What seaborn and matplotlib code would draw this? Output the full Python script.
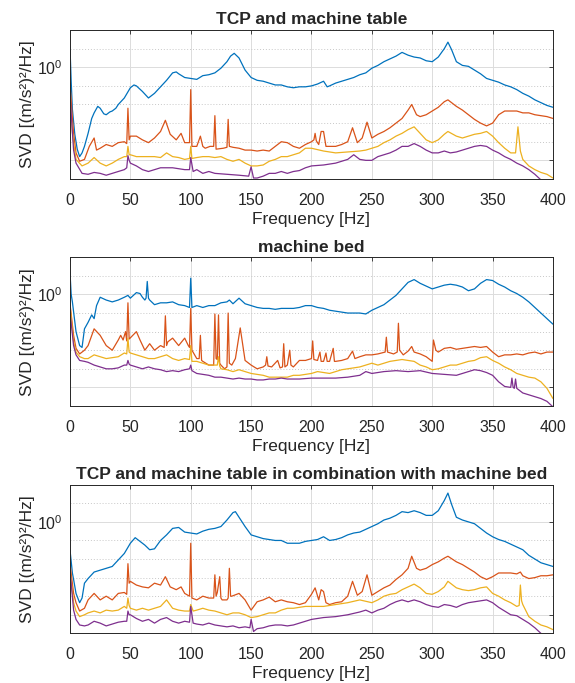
import matplotlib
matplotlib.use("Agg")
import matplotlib.pyplot as plt
import seaborn as sns
import numpy as np
from matplotlib.ticker import FixedLocator, FixedFormatter, NullFormatter

# singular values, stored as log10 exponents: (frequency [Hz], log10 SVD)
table_blue = [(0, 0.22), (1, -0.15), (2, -0.45), (4, -0.72), (6, -0.88), (8, -0.96), (10, -0.92), (12, -0.85),
              (15, -0.71), (18, -0.55), (20, -0.49), (23, -0.42), (25, -0.44), (28, -0.5), (30, -0.51), (33, -0.48),
              (35, -0.47), (38, -0.44), (40, -0.40), (45, -0.33), (50, -0.22), (53, -0.19), (55, -0.20), (60, -0.26),
              (65, -0.33), (70, -0.28), (75, -0.21), (80, -0.14), (85, -0.06), (88, -0.05), (90, -0.07), (95, -0.11),
              (100, -0.12), (105, -0.13), (110, -0.09), (115, -0.08), (120, -0.06), (125, -0.01), (130, 0.06),
              (133, 0.12), (136, 0.15), (140, 0.10), (145, -0.03), (150, -0.11), (155, -0.14), (160, -0.15),
              (165, -0.17), (170, -0.19), (175, -0.19), (180, -0.21), (185, -0.22), (190, -0.21), (195, -0.21),
              (200, -0.20), (205, -0.18), (210, -0.15), (213, -0.21), (215, -0.20), (220, -0.17), (225, -0.15),
              (230, -0.13), (235, -0.11), (240, -0.08), (245, -0.06), (250, -0.01), (255, 0.02), (260, 0.06),
              (265, 0.09), (270, 0.12), (275, 0.16), (280, 0.13), (285, 0.11), (290, 0.10), (295, 0.07), (300, 0.06),
              (305, 0.11), (310, 0.20), (313, 0.27), (316, 0.19), (320, 0.06), (325, 0.02), (330, 0.01), (335, -0.03),
              (340, -0.07), (345, -0.12), (350, -0.14), (355, -0.16), (360, -0.19), (365, -0.21), (370, -0.24),
              (375, -0.28), (380, -0.31), (385, -0.35), (390, -0.38), (395, -0.41), (400, -0.43)]
table_orange = [(0, -0.17), (2, -0.55), (3, -0.71), (5, -0.92), (8, -1.01), (12, -0.99), (16, -0.85), (20, -0.76),
                (22, -0.89), (25, -0.87), (30, -0.83), (35, -0.85), (40, -0.81), (45, -0.80), (47, -0.82), (48, -0.44),
                (49, -0.78), (50, -0.74), (55, -0.74), (60, -0.78), (65, -0.81), (70, -0.76), (75, -0.69), (79, -0.57),
                (83, -0.72), (88, -0.78), (92, -0.71), (95, -0.81), (99, -0.81), (100, -0.24), (101, -0.85),
                (105, -0.85), (108, -0.74), (110, -0.85), (112, -0.87), (116, -0.85), (119, -0.85), (120, -0.52),
                (121, -0.88), (127, -0.87), (130, -0.86), (131, -0.56), (132, -0.85), (135, -0.86), (140, -0.87),
                (145, -0.89), (150, -0.89), (155, -0.90), (160, -0.89), (165, -0.90), (170, -0.85), (175, -0.80),
                (180, -0.81), (185, -0.85), (190, -0.87), (195, -0.83), (200, -0.80), (202, -0.78), (203, -0.71),
                (204, -0.79), (206, -0.83), (208, -0.69), (210, -0.69), (212, -0.85), (215, -0.85), (220, -0.85),
                (225, -0.83), (230, -0.80), (234, -0.65), (238, -0.81), (242, -0.76), (246, -0.59), (250, -0.76),
                (255, -0.72), (260, -0.69), (265, -0.65), (270, -0.60), (275, -0.55), (280, -0.46), (283, -0.40),
                (287, -0.51), (290, -0.53), (295, -0.51), (300, -0.47), (305, -0.43), (310, -0.37), (313, -0.35),
                (320, -0.42), (325, -0.46), (330, -0.51), (335, -0.56), (340, -0.60), (345, -0.63), (350, -0.60),
                (355, -0.51), (360, -0.47), (365, -0.47), (370, -0.47), (375, -0.49), (380, -0.49), (385, -0.51),
                (390, -0.52), (395, -0.53), (400, -0.55)]
table_yellow = [(0, -0.35), (2, -0.7), (3, -0.81), (5, -0.99), (10, -1.06), (15, -1.03), (20, -0.97), (25, -1.03),
                (30, -1.06), (35, -1.03), (40, -0.99), (45, -0.96), (47, -0.96), (48, -0.85), (49, -0.94), (50, -0.94),
                (55, -0.96), (60, -0.96), (65, -0.96), (70, -0.96), (75, -0.97), (80, -0.92), (85, -0.96), (90, -0.97),
                (95, -0.99), (99, -0.98), (100, -0.85), (101, -0.98), (105, -0.97), (110, -0.96), (115, -0.96),
                (120, -0.97), (125, -0.96), (130, -0.99), (135, -1.01), (140, -0.99), (145, -1.03), (150, -1.06),
                (155, -1.06), (160, -1.05), (165, -1.01), (170, -0.99), (175, -0.96), (180, -0.96), (185, -0.94),
                (190, -0.92), (195, -0.87), (200, -0.87), (210, -0.90), (220, -0.92), (230, -0.91), (240, -0.90),
                (245, -0.89), (250, -0.87), (255, -0.85), (260, -0.81), (265, -0.78), (270, -0.74), (275, -0.71),
                (280, -0.67), (285, -0.64), (290, -0.71), (295, -0.78), (300, -0.81), (305, -0.78), (310, -0.72),
                (313, -0.69), (320, -0.74), (325, -0.76), (330, -0.74), (335, -0.72), (340, -0.71), (345, -0.69),
                (350, -0.74), (355, -0.81), (360, -0.87), (365, -0.92), (369, -0.92), (371, -0.64), (373, -0.90),
                (375, -0.99), (380, -1.06), (385, -1.10), (390, -1.13), (395, -1.15), (400, -1.19)]
table_purple = [(0, -0.28), (2, -0.7), (3, -0.89), (5, -1.03), (10, -1.14), (15, -1.15), (20, -1.13), (25, -1.14),
                (30, -1.16), (35, -1.14), (40, -1.12), (45, -1.10), (47, -1.08), (48, -0.95), (49, -1.0), (50, -1.03),
                (55, -1.06), (60, -1.10), (65, -1.12), (70, -1.10), (75, -1.08), (80, -1.08), (85, -1.08), (90, -1.09),
                (95, -1.10), (99, -1.10), (100, -0.97), (102, -1.12), (105, -1.10), (110, -1.14), (115, -1.12),
                (120, -1.14), (130, -1.15), (140, -1.16), (148, -1.17), (150, -1.07), (152, -1.19), (155, -1.19),
                (160, -1.17), (165, -1.14), (170, -1.14), (175, -1.12), (180, -1.14), (185, -1.12), (190, -1.11),
                (195, -1.08), (200, -1.06), (210, -1.05), (220, -1.03), (230, -0.99), (235, -0.94), (240, -0.99),
                (245, -1.0), (250, -1.0), (255, -0.96), (260, -0.94), (265, -0.92), (270, -0.89), (275, -0.85),
                (280, -0.85), (285, -0.82), (290, -0.85), (295, -0.89), (300, -0.92), (305, -0.92), (310, -0.90),
                (315, -0.92), (320, -0.91), (325, -0.89), (330, -0.87), (335, -0.85), (340, -0.84), (345, -0.85),
                (350, -0.89), (355, -0.92), (360, -0.96), (365, -0.99), (370, -1.03), (375, -1.06), (380, -1.10),
                (385, -1.15), (390, -1.21), (395, -1.26), (400, -1.3)]

bed_blue = [(0, 0.24), (1, 0.0), (2, -0.08), (5, -0.40), (8, -0.55), (10, -0.57), (12, -0.37), (15, -0.30),
            (18, -0.22), (20, -0.26), (22, -0.12), (25, -0.03), (30, -0.06), (35, -0.08), (40, -0.06), (45, -0.03),
            (48, -0.01), (50, -0.04), (55, 0.02), (58, 0.01), (60, -0.03), (62, -0.06), (63, -0.04), (64, 0.14),
            (65, -0.04), (66, -0.06), (70, -0.11), (75, -0.09), (80, -0.09), (85, -0.08), (90, -0.11), (95, -0.12),
            (99, -0.14), (100, 0.175), (101, -0.14), (105, -0.12), (110, -0.14), (115, -0.12), (120, -0.12),
            (125, -0.09), (130, -0.08), (132, -0.06), (135, -0.10), (140, -0.04), (145, -0.10), (150, -0.12),
            (155, -0.14), (160, -0.15), (165, -0.15), (170, -0.16), (175, -0.15), (180, -0.15), (185, -0.15),
            (190, -0.14), (195, -0.12), (200, -0.12), (205, -0.14), (210, -0.15), (215, -0.17), (220, -0.18),
            (225, -0.19), (230, -0.20), (235, -0.20), (240, -0.20), (245, -0.21), (250, -0.17), (255, -0.14),
            (260, -0.11), (265, -0.06), (270, -0.01), (275, 0.06), (280, 0.13), (285, 0.16), (290, 0.12), (295, 0.09),
            (300, 0.06), (305, 0.08), (310, 0.10), (315, 0.11), (320, 0.10), (325, 0.08), (330, 0.04), (335, 0.06),
            (340, 0.12), (345, 0.16), (350, 0.15), (355, 0.11), (360, 0.08), (365, 0.04), (370, 0.01), (375, -0.03),
            (380, -0.08), (385, -0.14), (390, -0.20), (395, -0.26), (400, -0.32)]
bed_orange = [(0, -0.10), (3, -0.44), (5, -0.58), (8, -0.64), (12, -0.60), (15, -0.55), (20, -0.37), (25, -0.44),
              (30, -0.55), (35, -0.60), (40, -0.49), (42, -0.44), (44, -0.49), (46, -0.40), (47, -0.5), (48, -0.09),
              (49, -0.48), (52, -0.44), (55, -0.40), (58, -0.49), (62, -0.60), (66, -0.53), (70, -0.60), (75, -0.55),
              (78, -0.57), (79, -0.23), (80, -0.55), (81, -0.51), (85, -0.47), (90, -0.55), (95, -0.47), (98, -0.55),
              (99, -0.57), (100, -0.15), (101, -0.60), (105, -0.69), (107, -0.69), (108, -0.44), (109, -0.71),
              (110, -0.72), (115, -0.76), (119, -0.76), (120, -0.21), (121, -0.69), (122, -0.70), (123, -0.22),
              (124, -0.74), (125, -0.76), (128, -0.80), (130, -0.78), (131, -0.20), (132, -0.74), (134, -0.76),
              (137, -0.69), (141, -0.36), (145, -0.71), (150, -0.76), (155, -0.80), (160, -0.78), (162, -0.76),
              (163, -0.67), (164, -0.77), (167, -0.78), (172, -0.71), (174, -0.79), (176, -0.78), (177, -0.53),
              (178, -0.78), (180, -0.76), (182, -0.60), (183, -0.76), (185, -0.78), (190, -0.71), (195, -0.71),
              (200, -0.69), (201, -0.50), (202, -0.70), (205, -0.71), (207, -0.62), (208, -0.72), (210, -0.72),
              (212, -0.63), (213, -0.72), (215, -0.72), (218, -0.58), (219, -0.72), (220, -0.72), (225, -0.71),
              (230, -0.69), (234, -0.61), (236, -0.69), (240, -0.67), (245, -0.65), (250, -0.65), (255, -0.64),
              (261, -0.62), (262, -0.46), (263, -0.62), (268, -0.64), (271, -0.62), (272, -0.31), (273, -0.60),
              (276, -0.65), (280, -0.61), (283, -0.56), (285, -0.62), (290, -0.64), (295, -0.67), (300, -0.72),
              (301, -0.49), (303, -0.60), (305, -0.62), (310, -0.58), (315, -0.57), (320, -0.59), (325, -0.58),
              (330, -0.57), (335, -0.56), (340, -0.57), (345, -0.56), (350, -0.62), (355, -0.67), (360, -0.65),
              (365, -0.65), (370, -0.64), (375, -0.65), (380, -0.63), (385, -0.62), (390, -0.64), (395, -0.62),
              (400, -0.62)]
bed_yellow = [(0, -0.12), (3, -0.51), (5, -0.62), (8, -0.67), (12, -0.69), (15, -0.69), (20, -0.65), (25, -0.67),
              (30, -0.69), (35, -0.68), (40, -0.67), (45, -0.63), (47, -0.64), (48, -0.47), (49, -0.62), (50, -0.63),
              (55, -0.65), (60, -0.67), (65, -0.69), (70, -0.69), (75, -0.67), (80, -0.65), (85, -0.69), (90, -0.71),
              (95, -0.69), (99, -0.70), (100, -0.55), (101, -0.72), (105, -0.72), (110, -0.74), (115, -0.76),
              (120, -0.76), (122, -0.76), (123, -0.67), (124, -0.77), (125, -0.80), (130, -0.81), (135, -0.83),
              (140, -0.81), (145, -0.83), (150, -0.85), (155, -0.86), (160, -0.87), (165, -0.89), (170, -0.89),
              (175, -0.89), (180, -0.89), (185, -0.87), (190, -0.87), (195, -0.86), (200, -0.85), (205, -0.83),
              (210, -0.84), (215, -0.85), (220, -0.83), (225, -0.81), (230, -0.80), (235, -0.79), (240, -0.78),
              (245, -0.76), (250, -0.74), (255, -0.76), (260, -0.74), (265, -0.72), (270, -0.71), (275, -0.70),
              (280, -0.71), (285, -0.72), (290, -0.76), (295, -0.78), (300, -0.81), (305, -0.80), (310, -0.78),
              (315, -0.76), (320, -0.76), (325, -0.74), (330, -0.72), (335, -0.71), (340, -0.68), (345, -0.67),
              (350, -0.71), (355, -0.74), (360, -0.78), (365, -0.81), (370, -0.85), (375, -0.87), (380, -0.89),
              (385, -0.90), (390, -0.94), (395, -1.01), (400, -1.12)]
bed_purple = [(0, -0.19), (3, -0.55), (5, -0.65), (8, -0.71), (12, -0.72), (15, -0.73), (20, -0.76), (25, -0.78),
              (30, -0.80), (35, -0.80), (40, -0.79), (45, -0.76), (47, -0.76), (48, -0.71), (49, -0.75), (50, -0.76),
              (55, -0.78), (60, -0.80), (65, -0.78), (70, -0.80), (75, -0.81), (80, -0.83), (85, -0.82), (90, -0.83),
              (95, -0.81), (99, -0.80), (100, -0.76), (101, -0.82), (105, -0.85), (110, -0.86), (115, -0.87),
              (120, -0.89), (125, -0.89), (130, -0.90), (135, -0.91), (140, -0.90), (145, -0.91), (150, -0.91),
              (155, -0.92), (160, -0.92), (165, -0.91), (170, -0.91), (175, -0.90), (180, -0.91), (185, -0.91),
              (190, -0.91), (200, -0.90), (210, -0.90), (220, -0.90), (230, -0.89), (240, -0.87), (245, -0.83),
              (250, -0.85), (260, -0.83), (270, -0.82), (280, -0.83), (290, -0.82), (300, -0.85), (310, -0.86),
              (320, -0.87), (330, -0.83), (335, -0.81), (340, -0.82), (345, -0.84), (350, -0.87), (355, -0.94),
              (360, -0.99), (365, -1.0), (366, -0.90), (367, -1.0), (368, -1.01), (369, -0.91), (370, -1.01),
              (371, -1.02), (375, -1.06), (380, -1.08), (385, -1.10), (390, -1.12), (395, -1.15), (400, -1.21)]

combo_blue = [(0, -0.30), (2, -0.55), (3, -0.62), (5, -0.77), (8, -0.87), (10, -0.82), (12, -0.66), (15, -0.61),
              (20, -0.54), (25, -0.52), (30, -0.50), (35, -0.48), (40, -0.41), (45, -0.34), (50, -0.23), (54, -0.17),
              (58, -0.21), (62, -0.25), (66, -0.30), (70, -0.29), (75, -0.20), (80, -0.14), (85, -0.07), (90, -0.06),
              (95, -0.11), (100, -0.12), (105, -0.13), (110, -0.10), (115, -0.08), (120, -0.07), (125, -0.05),
              (130, 0.02), (135, 0.10), (137, 0.11), (140, 0.05), (145, -0.05), (150, -0.14), (155, -0.16),
              (160, -0.18), (165, -0.19), (170, -0.20), (175, -0.20), (180, -0.23), (185, -0.23), (190, -0.23),
              (195, -0.21), (200, -0.20), (205, -0.19), (210, -0.16), (215, -0.20), (220, -0.19), (225, -0.17),
              (230, -0.14), (235, -0.12), (240, -0.11), (245, -0.08), (250, -0.05), (255, -0.02), (260, 0.02),
              (265, 0.04), (270, 0.07), (275, 0.11), (280, 0.10), (285, 0.12), (290, 0.10), (295, 0.07), (300, 0.07),
              (305, 0.12), (310, 0.23), (313, 0.31), (316, 0.19), (320, 0.05), (325, 0.02), (330, 0.0), (335, -0.02),
              (340, -0.07), (345, -0.12), (350, -0.16), (355, -0.19), (360, -0.21), (365, -0.24), (370, -0.27),
              (375, -0.30), (380, -0.36), (385, -0.40), (390, -0.44), (395, -0.46), (400, -0.48)]
combo_orange = [(0, -0.45), (3, -0.77), (5, -0.87), (8, -0.96), (12, -0.93), (15, -0.84), (20, -0.77), (25, -0.84),
                (30, -0.80), (35, -0.84), (40, -0.77), (45, -0.76), (47, -0.78), (48, -0.45), (49, -0.66), (50, -0.64),
                (55, -0.68), (60, -0.70), (65, -0.71), (70, -0.66), (75, -0.68), (79, -0.59), (83, -0.70), (88, -0.73),
                (92, -0.70), (95, -0.77), (99, -0.80), (100, -0.23), (101, -0.82), (105, -0.84), (110, -0.80),
                (115, -0.82), (119, -0.82), (120, -0.57), (121, -0.80), (122, -0.76), (124, -0.59), (125, -0.82),
                (126, -0.84), (130, -0.84), (131, -0.82), (132, -0.50), (133, -0.80), (134, -0.80), (140, -0.77),
                (145, -0.84), (150, -0.95), (155, -0.86), (160, -0.84), (165, -0.81), (170, -0.86), (175, -0.84),
                (180, -0.86), (185, -0.87), (190, -0.89), (195, -0.87), (200, -0.78), (203, -0.71), (206, -0.84),
                (208, -0.73), (210, -0.75), (212, -0.87), (215, -0.89), (220, -0.87), (225, -0.86), (230, -0.80),
                (234, -0.64), (238, -0.79), (242, -0.75), (246, -0.57), (250, -0.79), (255, -0.75), (260, -0.71),
                (265, -0.68), (270, -0.62), (275, -0.57), (280, -0.50), (283, -0.37), (287, -0.50), (290, -0.52),
                (295, -0.50), (300, -0.46), (305, -0.43), (310, -0.39), (313, -0.37), (320, -0.43), (325, -0.46),
                (330, -0.50), (335, -0.54), (340, -0.59), (345, -0.62), (350, -0.59), (355, -0.55), (360, -0.55),
                (365, -0.55), (370, -0.56), (373, -0.54), (375, -0.58), (380, -0.61), (385, -0.60), (390, -0.58),
                (395, -0.58), (400, -0.57)]
combo_yellow = [(0, -0.52), (3, -0.87), (5, -0.96), (8, -1.02), (12, -1.0), (15, -0.98), (20, -0.96), (25, -0.98),
                (30, -0.95), (35, -0.96), (40, -0.95), (45, -0.91), (47, -0.93), (48, -0.82), (49, -0.90), (50, -0.93),
                (55, -0.95), (60, -0.93), (65, -0.95), (70, -0.93), (75, -0.91), (80, -0.84), (85, -0.93), (90, -0.95),
                (95, -0.96), (99, -0.96), (100, -0.89), (102, -0.96), (105, -0.95), (110, -0.93), (115, -0.95),
                (120, -0.96), (125, -0.98), (130, -1.0), (135, -0.98), (140, -0.98), (145, -1.0), (150, -1.03),
                (155, -1.02), (160, -1.0), (165, -0.98), (170, -0.98), (175, -0.95), (180, -0.93), (185, -0.93),
                (190, -0.92), (195, -0.91), (200, -0.91), (210, -0.91), (220, -0.89), (230, -0.87), (240, -0.84),
                (250, -0.87), (255, -0.84), (260, -0.80), (265, -0.78), (270, -0.77), (275, -0.73), (280, -0.70),
                (285, -0.67), (290, -0.71), (295, -0.77), (300, -0.78), (305, -0.75), (310, -0.70), (313, -0.64),
                (320, -0.71), (325, -0.73), (330, -0.74), (335, -0.73), (340, -0.71), (345, -0.70), (350, -0.77),
                (355, -0.80), (360, -0.84), (365, -0.87), (370, -0.91), (372, -0.9), (373, -0.68), (374, -0.85),
                (375, -0.89), (380, -1.02), (385, -1.07), (390, -1.11), (395, -1.13), (400, -1.16)]
combo_purple = [(0, -0.52), (3, -0.95), (5, -1.05), (8, -1.11), (12, -1.12), (15, -1.11), (20, -1.07), (25, -1.09),
                (30, -1.12), (35, -1.10), (40, -1.08), (45, -1.07), (47, -1.07), (48, -0.96), (49, -1.0), (50, -1.0),
                (55, -1.04), (60, -1.07), (65, -1.05), (70, -1.09), (75, -1.05), (80, -1.03), (85, -1.07), (90, -1.09),
                (95, -1.07), (99, -1.08), (100, -0.91), (102, -1.09), (105, -1.10), (110, -1.11), (115, -1.09),
                (120, -1.11), (125, -1.12), (130, -1.13), (135, -1.12), (140, -1.14), (145, -1.13), (149, -1.14),
                (150, -1.05), (152, -1.18), (155, -1.15), (160, -1.14), (165, -1.12), (170, -1.11), (175, -1.11),
                (180, -1.12), (185, -1.11), (190, -1.09), (195, -1.07), (200, -1.05), (210, -1.03), (220, -1.02),
                (230, -1.0), (240, -0.97), (245, -0.95), (250, -0.98), (255, -0.95), (260, -0.93), (265, -0.89),
                (270, -0.86), (275, -0.84), (280, -0.86), (285, -0.84), (290, -0.86), (295, -0.89), (300, -0.91),
                (305, -0.92), (310, -0.89), (315, -0.90), (320, -0.92), (325, -0.89), (330, -0.87), (335, -0.86),
                (340, -0.85), (345, -0.84), (350, -0.87), (355, -0.92), (360, -0.96), (365, -1.0), (370, -1.01),
                (375, -1.05), (380, -1.09), (385, -1.14), (390, -1.20), (395, -1.25), (400, -1.3)]

titles = ["TCP and machine table", "machine bed",
          "TCP and machine table in combination with machine bed"]
panel_series = [[table_blue, table_orange, table_yellow, table_purple],
                [bed_blue, bed_orange, bed_yellow, bed_purple],
                [combo_blue, combo_orange, combo_yellow, combo_purple]]
colors = ["#0072BD", "#D95319", "#EDB120", "#7E2F8E"]
x_ticks = [0, 50, 100, 150, 200, 250, 300, 350, 400]

sns.set_style("white")
plt.rcParams["font.family"] = ["Liberation Sans", "DejaVu Sans"]
plt.rcParams["mathtext.fontset"] = "custom"
plt.rcParams["mathtext.rm"] = "Liberation Sans"
plt.rcParams["mathtext.it"] = "Liberation Sans:italic"

fig = plt.figure(figsize=(5.75, 6.83), dpi=100)
boxes = [(0.1217, 0.738, 0.84, 0.218),
         (0.1217, 0.4056, 0.84, 0.2177),
         (0.1217, 0.0727, 0.84, 0.2176)]

for box, title, series in zip(boxes, titles, panel_series):
    ax = fig.add_axes(box)
    for data, col in zip(series, colors):
        f = np.array([p[0] for p in data], dtype=float)
        v = 10.0 ** np.array([p[1] for p in data])
        sns.lineplot(x=f, y=v, ax=ax, color=col, lw=0.9, sort=False)
    ax.set_yscale("log")
    ax.set_xlim(0, 400)
    ax.set_ylim(10 ** -1.2, 10 ** 0.4)
    ax.set_xticks(x_ticks)
    ax.yaxis.set_major_locator(FixedLocator([0.1, 1.0]))
    ax.yaxis.set_major_formatter(FixedFormatter(["", "$10^0$"]))
    ax.yaxis.set_minor_locator(FixedLocator([10 ** e for e in (0.2, -0.2, -0.4, -0.6, -0.8)]))
    ax.yaxis.set_minor_formatter(NullFormatter())
    ax.grid(True, which="major", color="#dcdcdc", lw=0.7, ls="-")
    ax.grid(True, which="minor", axis="y", color="#c8c8c8", lw=0.7, ls=(0, (1, 2)))
    ax.set_axisbelow(True)
    ax.tick_params(which="major", direction="in", length=3, width=0.6, top=True, right=True,
                   labelsize=11.5, colors="#262626")
    ax.tick_params(axis="x", which="major", pad=10)
    ax.tick_params(axis="y", which="major", pad=5)
    ax.tick_params(which="minor", length=0)
    for sp in ax.spines.values():
        sp.set_color("#262626")
        sp.set_linewidth(0.7)
    ax.set_title(title, fontsize=12.5, fontweight="bold", pad=4)
    ax.set_xlabel("Frequency [Hz]", fontsize=12.5, color="#262626", labelpad=3)
    ax.set_ylabel("SVD [(m/s²)²/Hz]", fontsize=12.5, color="#262626", labelpad=2)

fig.savefig("out.png", dpi=100)
